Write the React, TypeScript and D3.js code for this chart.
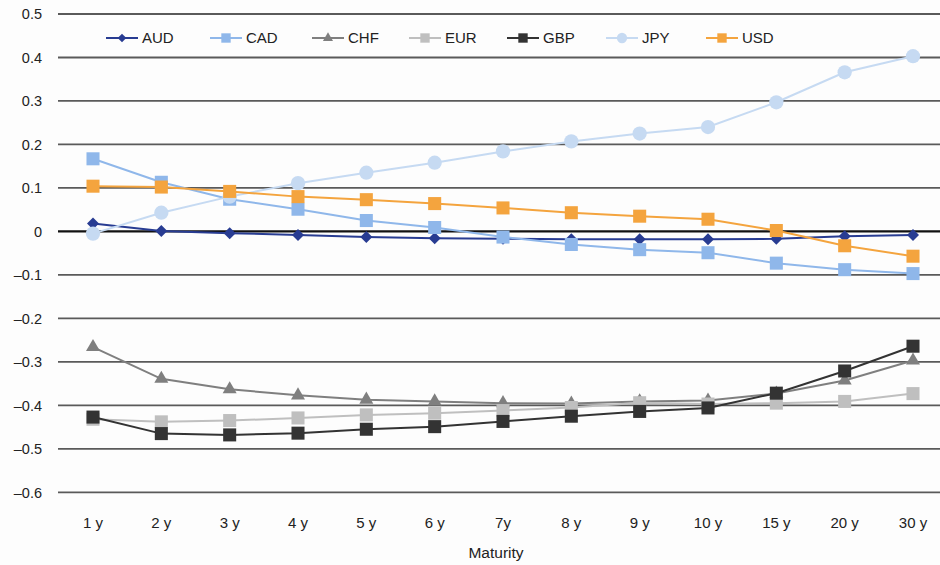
import React, { useEffect, useRef } from "react";
import * as d3 from "d3";

const maturities = ["1 y", "2 y", "3 y", "4 y", "5 y", "6 y", "7y", "8 y", "9 y", "10 y", "15 y", "20 y", "30 y"];

const AUD = [0.018, 0.001, -0.004, -0.008, -0.013, -0.016, -0.017, -0.018, -0.018, -0.018, -0.017, -0.011, -0.008];
const CAD = [0.167, 0.113, 0.074, 0.051, 0.025, 0.009, -0.013, -0.03, -0.042, -0.049, -0.073, -0.088, -0.097];
const CHF = [-0.266, -0.339, -0.363, -0.377, -0.387, -0.391, -0.395, -0.396, -0.391, -0.389, -0.373, -0.343, -0.297];
const EUR = [-0.432, -0.438, -0.435, -0.429, -0.422, -0.418, -0.412, -0.405, -0.394, -0.397, -0.395, -0.391, -0.373];
const GBP = [-0.427, -0.465, -0.468, -0.464, -0.455, -0.449, -0.437, -0.425, -0.414, -0.406, -0.372, -0.321, -0.264];
const JPY = [-0.005, 0.043, 0.08, 0.111, 0.135, 0.158, 0.184, 0.207, 0.225, 0.24, 0.297, 0.366, 0.403];
const USD = [0.104, 0.102, 0.092, 0.08, 0.073, 0.064, 0.054, 0.043, 0.035, 0.028, 0.002, -0.033, -0.057];

const seriesNames = ["AUD", "CAD", "CHF", "EUR", "GBP", "JPY", "USD"];
const seriesValues = [AUD, CAD, CHF, EUR, GBP, JPY, USD];
const seriesColors = ["#283c92", "#8fb7ea", "#7f7f7f", "#bfbfbf", "#333333", "#c6daf2", "#f4a43e"];
const seriesMarkers = ["diamond", "square", "triangle", "square", "square", "circle", "square"];

const yTicks = [0.5, 0.4, 0.3, 0.2, 0.1, 0, -0.1, -0.2, -0.3, -0.4, -0.5, -0.6];
const xTitle = "Maturity";

const W = 940;
const H = 565;
const FONT = "'Liberation Sans', Arial, Helvetica, sans-serif";

const legendX = [106, 210, 312, 409, 507, 606, 706];

// Diamond drawn as a square turned 45 degrees (equal width and height)
const squareDiamond: d3.SymbolType = {
  draw(context, size) {
    const r = Math.sqrt(size / 2);
    context.moveTo(0, -r);
    context.lineTo(r, 0);
    context.lineTo(0, r);
    context.lineTo(-r, 0);
    context.closePath();
  },
};

function markerPath(kind: string, big: boolean): string {
  const scale = big ? 1 : 0.72;
  const sym =
    kind === "diamond"
      ? squareDiamond
      : kind === "triangle"
      ? d3.symbolTriangle
      : kind === "circle"
      ? d3.symbolCircle
      : d3.symbolSquare;
  const size =
    kind === "diamond" ? 72 : kind === "triangle" ? 85 : kind === "circle" ? 160 : 170;
  return d3.symbol().type(sym).size(size * scale * scale)() as string;
}

function fmt(v: number): string {
  if (v === 0) return "0";
  const s = Math.abs(v).toFixed(1);
  return v < 0 ? "\u2013" + s : s;
}

export default function App() {
  const ref = useRef<SVGSVGElement | null>(null);

  useEffect(() => {
    const svg = d3.select(ref.current);
    svg.selectAll("*").remove();

    const x = d3.scalePoint<string>().domain(maturities).range([93, 913]);
    const y = d3.scaleLinear().domain([-0.6, 0.5]).range([492.3, 14]);

    svg.append("rect").attr("width", W).attr("height", H).attr("fill", "#fdfdfd");

    // horizontal gridlines and value labels
    const grid = svg.append("g");
    grid
      .selectAll("line")
      .data(yTicks)
      .join("line")
      .attr("x1", 58)
      .attr("x2", W)
      .attr("y1", (d) => y(d))
      .attr("y2", (d) => y(d))
      .attr("stroke", (d) => (d === 0 ? "#111" : "#5a5a5a"))
      .attr("stroke-width", (d) => (d === 0 ? 2.4 : 1.8));
    grid
      .selectAll("text")
      .data(yTicks)
      .join("text")
      .attr("x", 42)
      .attr("y", (d) => y(d))
      .attr("dy", "0.36em")
      .attr("text-anchor", "end")
      .attr("font-family", FONT)
      .attr("font-size", 14.5)
      .attr("fill", "#222")
      .text((d) => fmt(d));

    // category labels
    svg
      .append("g")
      .selectAll("text")
      .data(maturities)
      .join("text")
      .attr("x", (d) => x(d) as number)
      .attr("y", 527.5)
      .attr("text-anchor", "middle")
      .attr("font-family", FONT)
      .attr("font-size", 15)
      .attr("fill", "#222")
      .text((d) => d);

    svg
      .append("text")
      .attr("x", 496)
      .attr("y", 557.5)
      .attr("text-anchor", "middle")
      .attr("font-family", FONT)
      .attr("font-size", 15.5)
      .attr("fill", "#222")
      .text(xTitle);

    // series lines and markers
    const line = d3
      .line<number>()
      .x((_, i) => x(maturities[i]) as number)
      .y((d) => y(d));

    seriesNames.forEach((name, si) => {
      const g = svg.append("g");
      const color = seriesColors[si];
      g.append("path")
        .attr("d", line(seriesValues[si]) as string)
        .attr("fill", "none")
        .attr("stroke", color)
        .attr("stroke-width", 2);
      g.selectAll("path.m")
        .data(seriesValues[si])
        .join("path")
        .attr("class", "m")
        .attr("d", markerPath(seriesMarkers[si], true))
        .attr("transform", (d, i) => `translate(${x(maturities[i])},${y(d)})`)
        .attr("fill", color);
    });

    // legend
    const lg = svg.append("g");
    seriesNames.forEach((name, si) => {
      const lx = legendX[si];
      const ly = 38;
      const color = seriesColors[si];
      lg.append("line")
        .attr("x1", lx)
        .attr("x2", lx + 32)
        .attr("y1", ly)
        .attr("y2", ly)
        .attr("stroke", color)
        .attr("stroke-width", 2);
      lg.append("path")
        .attr("d", markerPath(seriesMarkers[si], false))
        .attr("transform", `translate(${lx + 16},${ly})`)
        .attr("fill", color);
      lg.append("text")
        .attr("x", lx + 36)
        .attr("y", ly)
        .attr("dy", "0.36em")
        .attr("font-family", FONT)
        .attr("font-size", 15)
        .attr("fill", "#222")
        .text(name);
    });
  }, []);

  return (
    <svg
      ref={ref}
      width={W}
      height={H}
      style={{ position: "absolute", left: 0, top: 0, display: "block" }}
    />
  );
}
